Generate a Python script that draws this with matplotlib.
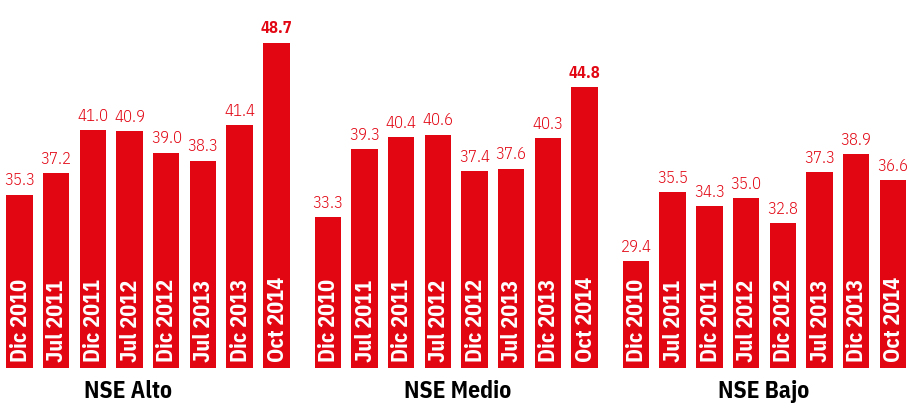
import numpy as np
import matplotlib.pyplot as plt

# survey waves and levels per socioeconomic group
periods = ["Dic 2010", "Jul 2011", "Dic 2011", "Jul 2012",
           "Dic 2012", "Jul 2013", "Dic 2013", "Oct 2014"]
groups = ["NSE Alto", "NSE Medio", "NSE Bajo"]
alto = [35.3, 37.2, 41.0, 40.9, 39.0, 38.3, 41.4, 48.7]
medio = [33.3, 39.3, 40.4, 40.6, 37.4, 37.6, 40.3, 44.8]
bajo = [29.4, 35.5, 34.3, 35.0, 32.8, 37.3, 38.9, 36.6]
series = [alto, medio, bajo]

red = "#e20613"
base = 20.0          # bars start from this level
group_step = 8.4     # distance between first bars of consecutive groups
bar_w = 0.72
label_shift = [-0.54, 0.05, -0.03]   # nudges for the group captions
bold_values = {(0, 7), (1, 7)}

plt.rcParams['font.family'] = ['IBM Plex Sans Condensed', 'DejaVu Sans']

fig = plt.figure(figsize=(9.09, 4.09), dpi=100)
ax = fig.add_axes([0, 0, 1, 1])
ax.set_xlim(-0.531, 24.24)
ax.set_ylim(16.38, 52.47)
ax.axis("off")

for g, (name, vals) in enumerate(zip(groups, series)):
    x = np.arange(len(vals)) + g * group_step
    heights = np.array(vals) - base
    ax.bar(x, heights, bottom=base, width=bar_w, color=red, linewidth=0)
    for i, (xi, v) in enumerate(zip(x, vals)):
        ax.annotate(f"{v:.1f}", (xi, v), xytext=(0, 4.5), textcoords="offset points",
                    ha="center", va="bottom", color=red, fontsize=12,
                    fontweight="bold" if (g, i) in bold_values else 300)
        ax.annotate(periods[i], (xi, base), xytext=(0.5, 4), textcoords="offset points",
                    rotation=90, ha="center", va="bottom", color="white",
                    fontsize=16, fontweight="bold")
    ax.text(x.mean() + label_shift[g], 17.9, name, ha="center", va="center",
            fontsize=17, fontweight="bold", color="black")

fig.savefig("out.png", dpi=100)
